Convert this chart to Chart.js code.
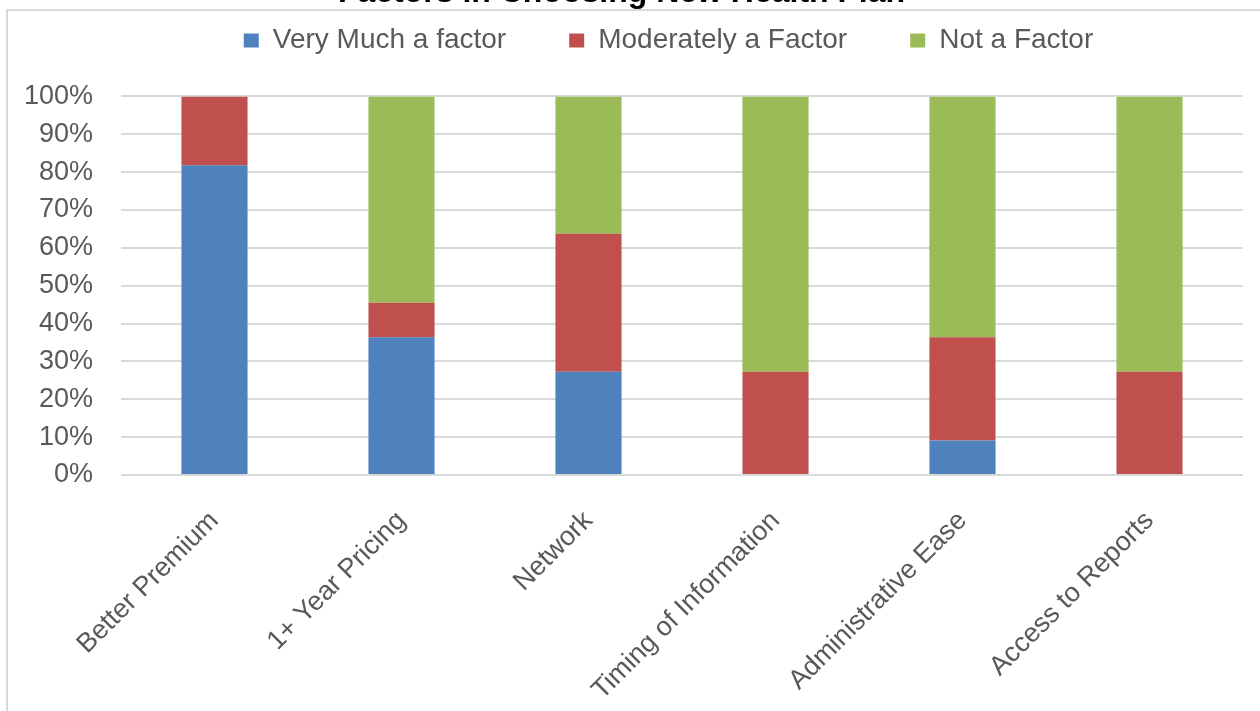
<!DOCTYPE html>
<html>
<head>
<meta charset="utf-8">
<script src="https://cdn.jsdelivr.net/npm/chart.js@4.4.0/dist/chart.umd.min.js"></script>
<style>
  html, body { margin: 0; padding: 0; background: #fff; overflow: hidden; }
  #page { position: relative; width: 1260px; height: 711px; overflow: hidden; }
  #frame { position: absolute; left: 6px; top: 9px; width: 1300px; height: 800px;
           border: 2px solid #d9d9d9; box-sizing: border-box; }
  #wrap { position: absolute; left: 0; top: -30px; width: 1260px; height: 741px; }
</style>
</head>
<body>
<div id="page">
  <div id="frame"></div>
  <div id="wrap"><canvas id="chart"></canvas></div>
</div>
<script>
const chartTitle = "Factors in Choosing New Health Plan";
const categories = ["Better Premium", "1+ Year Pricing", "Network", "Timing of Information", "Administrative Ease", "Access to Reports"];
const seriesNames = ["Very Much a factor", "Moderately a Factor", "Not a Factor"];
const veryMuch = [81.8, 36.4, 27.3, 0, 9.1, 0];
const moderately = [18.2, 9.1, 36.4, 27.3, 27.3, 27.3];
const notFactor = [0, 54.5, 36.3, 72.7, 63.6, 72.7];
const yTicks = [0, 10, 20, 30, 40, 50, 60, 70, 80, 90, 100];

const textColor = "#595959";
const fontFamily = "'Liberation Sans', Arial, sans-serif";

// moves the legend where Excel put it (not centred on the canvas)
const legendShift = {
  id: "legendShift",
  afterLayout: function(chart) {
    const lg = chart.legend;
    lg.left += 47; lg.right += 47;
    lg.top -= 32; lg.bottom -= 32;
  }
};

new Chart(document.getElementById("chart"), {
  type: "bar",
  data: {
    labels: categories,
    datasets: [
      { label: seriesNames[0], data: veryMuch, backgroundColor: "#4f81bd" },
      { label: seriesNames[1], data: moderately, backgroundColor: "#c0504d" },
      { label: seriesNames[2], data: notFactor, backgroundColor: "#9bbb59" }
    ]
  },
  options: {
    responsive: true,
    maintainAspectRatio: false,
    animation: false,
    layout: { padding: { left: 0, right: 17, top: 0, bottom: 0 } },
    datasets: { bar: { categoryPercentage: 0.7, barPercentage: 0.505 } },
    plugins: {
      tooltip: { enabled: false },
      title: {
        display: true,
        text: chartTitle,
        color: "#000",
        font: { family: fontFamily, size: 32, weight: "bold" },
        padding: { top: 4, bottom: -17 }
      },
      legend: {
        display: true,
        position: "top",
        labels: {
          color: textColor,
          font: { family: fontFamily, size: 28 },
          boxWidth: 15,
          boxHeight: 14,
          padding: 63
        }
      }
    },
    scales: {
      x: {
        stacked: true,
        grid: { display: false },
        border: { display: false },
        ticks: {
          color: textColor,
          font: { family: fontFamily, size: 27 },
          maxRotation: 45,
          minRotation: 45,
          autoSkip: false,
          padding: 22
        },
        afterFit: function(scale) { scale.height = 236; }
      },
      y: {
        stacked: true,
        min: 0,
        max: 100,
        afterBuildTicks: function(scale) {
          scale.ticks = yTicks.map(function(v) { return { value: v }; });
        },
        grid: { color: "#d9d9d9", lineWidth: 2, drawTicks: false },
        border: { display: false },
        ticks: {
          color: textColor,
          font: { family: fontFamily, size: 27 },
          padding: 28,
          callback: function(v) { return v + "%"; }
        },
        afterFit: function(scale) { scale.width = 121; }
      }
    }
  },
  plugins: [legendShift]
});
</script>
</body>
</html>
